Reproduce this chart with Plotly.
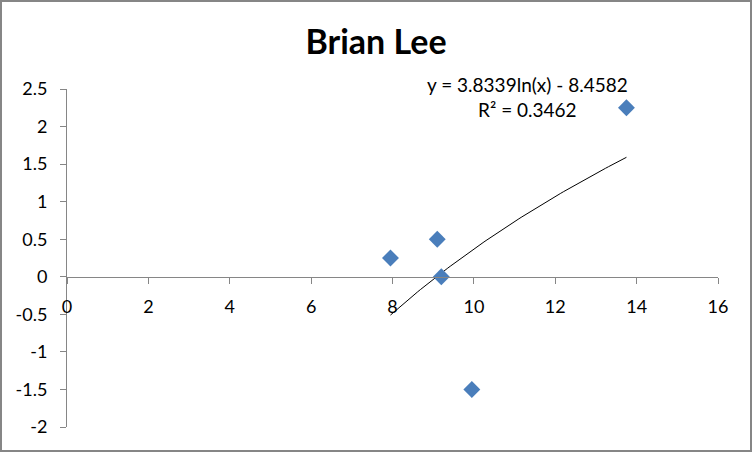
import numpy as np
import plotly.graph_objects as go

# Data
x_vals = [7.95, 9.1, 9.2, 9.95, 13.75]
y_vals = [0.25, 0.5, 0.0, -1.5, 2.25]
trend_a = 3.8339
trend_b = -8.4582
r_squared = 0.3462
title_text = "Brian Lee"
x_ticks = [0, 2, 4, 6, 8, 10, 12, 14, 16]
y_ticks = [-2, -1.5, -1, -0.5, 0, 0.5, 1, 1.5, 2, 2.5]

W, H = 752, 452
ML, MR, MT, MB = 67, 34, 89, 25
PW, PH = W - ML - MR, H - MT - MB

tx = np.linspace(min(x_vals), max(x_vals), 80)
ty = trend_a * np.log(tx) + trend_b

font = "Lato, 'Open Sans', sans-serif"
axis_col = "#868686"

fig = go.Figure()
fig.add_trace(go.Scatter(x=tx, y=ty, mode="lines",
                         line=dict(color="black", width=1), hoverinfo="skip"))
fig.add_trace(go.Scatter(x=x_vals, y=y_vals, mode="markers",
                         marker=dict(symbol="diamond", size=13, color="#4a7ebb",
                                     line=dict(width=0))))

ymin, ymax = -2, 2.5
fig.update_layout(
    width=W, height=H,
    margin=dict(l=ML, r=MR, t=MT, b=MB, pad=0),
    paper_bgcolor="white", plot_bgcolor="white",
    showlegend=False,
    title=dict(text="<b>%s</b>" % title_text, x=0.5, xanchor="center",
               y=1 - 42 / H, yanchor="middle",
               font=dict(family=font, size=34, color="black")),
    xaxis=dict(range=[0, 16], tickvals=x_ticks, showgrid=False, zeroline=False,
               showline=True, linecolor=axis_col, linewidth=1,
               ticks="outside", ticklen=6, tickcolor=axis_col,
               anchor="free", position=(0 - ymin) / (ymax - ymin),
               ticklabelstandoff=8,
               tickfont=dict(family=font, size=18, color="black")),
    yaxis=dict(range=[ymin, ymax], tickvals=y_ticks,
               ticktext=[("%g" % v) for v in y_ticks],
               showgrid=False, zeroline=False,
               showline=True, linecolor=axis_col, linewidth=1,
               ticks="outside", ticklen=6, tickcolor=axis_col,
               ticklabelstandoff=9,
               tickfont=dict(family=font, size=18, color="black")),
    annotations=[dict(text="y = %.4fln(x) - %.4f<br>R² = %.4f" % (trend_a, -trend_b, r_squared),
                      xref="paper", yref="paper",
                      x=(527 - ML) / PW, y=1 - (97 - MT) / PH,
                      xanchor="center", yanchor="middle", showarrow=False,
                      align="center",
                      font=dict(family=font, size=19, color="black"))],
    shapes=[dict(type="rect", xref="paper", yref="paper",
                 x0=(1 - ML) / PW, x1=(751 - ML) / PW,
                 y0=1 - (451 - MT) / PH, y1=1 - (1 - MT) / PH,
                 line=dict(color=axis_col, width=2), layer="below")],
)

fig.write_html("out.html", config={"displayModeBar": False},
               post_script="document.body.style.margin='0';")
